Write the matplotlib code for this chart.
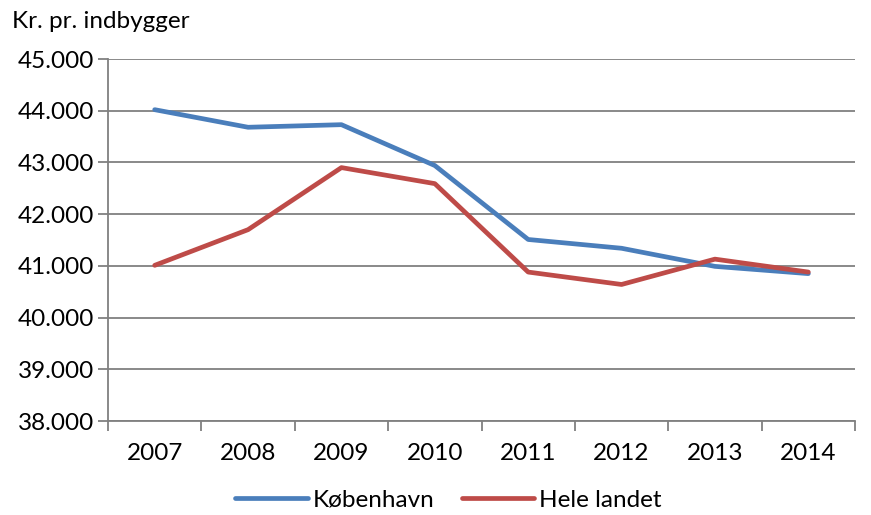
import numpy as np
import matplotlib
matplotlib.use('Agg')
import matplotlib.pyplot as plt
from matplotlib.ticker import FixedLocator, FuncFormatter

plt.rcParams['font.family'] = ['Lato', 'DejaVu Sans']

years = ['2007', '2008', '2009', '2010', '2011', '2012', '2013', '2014']
kbh = [44020, 43680, 43730, 42940, 41510, 41340, 40990, 40850]
hele = [41010, 41700, 42900, 42590, 40880, 40640, 41130, 40880]

fig = plt.figure(figsize=(8.71, 5.15), dpi=100)
ax = fig.add_axes([108/871, 1 - 421/515, (855 - 108)/871, (421 - 59)/515])

x = np.arange(len(years))
ax.plot(x, kbh, color='#4A7EBB', lw=3.4, label='København', solid_capstyle='round')
ax.plot(x, hele, color='#BE4B48', lw=3.4, label='Hele landet', solid_capstyle='round')

ax.set_xlim(-0.5, len(years) - 0.5)
ax.set_ylim(38000, 45000)
ax.set_yticks(np.arange(38000, 45001, 1000))
ax.yaxis.set_major_formatter(FuncFormatter(lambda v, p: f'{int(v):,}'.replace(',', '.')))
ax.yaxis.grid(True, color='#808080', lw=1.3)
ax.set_axisbelow(True)

ax.set_xticks(x)
ax.set_xticklabels(years)
ax.xaxis.set_minor_locator(FixedLocator(np.arange(-0.5, len(years), 1)))
ax.tick_params(axis='x', which='major', length=0, pad=16, labelsize=17.5)
ax.tick_params(axis='x', which='minor', length=7, color='#808080', width=1.3)
ax.tick_params(axis='y', length=7, color='#808080', width=1.3, labelsize=17.5, pad=3)

for s in ['top', 'right']:
    ax.spines[s].set_visible(False)
for s in ['left', 'bottom']:
    ax.spines[s].set_color('#808080')
    ax.spines[s].set_linewidth(1.3)

fig.text(12/871, 1 - 22/515, 'Kr. pr. indbygger', fontsize=17.5, va='center', ha='left')

fig.legend(loc='center', bbox_to_anchor=(0.515, 1 - 500/515), ncol=2, frameon=False,
           fontsize=17.5, handlelength=3.0, handletextpad=0.2, columnspacing=1.1)

fig.savefig('out.png', dpi=100)
